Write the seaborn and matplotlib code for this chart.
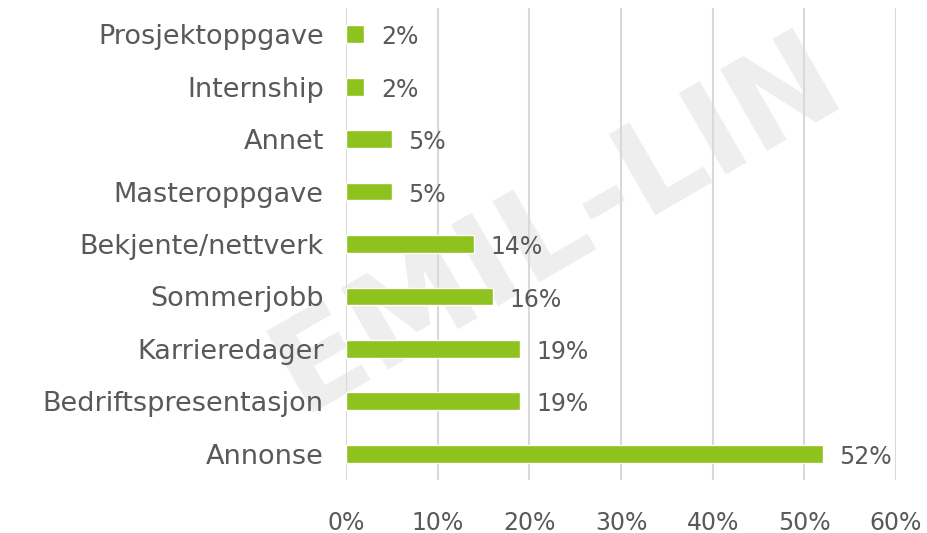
import matplotlib
matplotlib.use("Agg")
import matplotlib.pyplot as plt
import seaborn as sns
import pandas as pd

categories = ["Prosjektoppgave", "Internship", "Annet", "Masteroppgave",
              "Bekjente/nettverk", "Sommerjobb", "Karrieredager",
              "Bedriftspresentasjon", "Annonse"]
shares = [2, 2, 5, 5, 14, 16, 19, 19, 52]
xticks = [0, 10, 20, 30, 40, 50, 60]

BAR_COLOR = "#8DC21F"
TEXT_COLOR = "#595959"

sns.set_theme(style="white")
plt.rcParams["font.family"] = ["DejaVu Sans"]

df = pd.DataFrame({"kanal": categories, "andel": shares})

fig = plt.figure(figsize=(9.28, 5.33), dpi=100)
ax = fig.add_axes([346 / 928, 53 / 533, 550 / 928, 472 / 533])
ax.set_zorder(2)

# faint watermark behind the chart
fig.text(0.60, 0.58, "EMIL-LIN", fontsize=92, color="#eeeeee",
         rotation=30, ha="center", va="center", fontweight="bold", zorder=0)

sns.barplot(data=df, x="andel", y="kanal", order=categories, color=BAR_COLOR,
            width=0.34, ax=ax, saturation=1, zorder=3)

ax.set_xlim(0, 60)
ax.set_ylim(len(categories) - 0.5, -0.5)
ax.set_xticks(xticks)
ax.set_xticklabels([f"{t}%" for t in xticks])
ax.grid(axis="x", color="#d9d9d9", linewidth=1.5, zorder=0)
ax.set_axisbelow(True)
for s in ax.spines.values():
    s.set_visible(False)
ax.set_xlabel("")
ax.set_ylabel("")
ax.tick_params(axis="both", length=0, colors=TEXT_COLOR)
ax.tick_params(axis="y", pad=16, labelsize=19.5)
ax.tick_params(axis="x", pad=22, labelsize=17)
ax.patch.set_alpha(0)

for i, v in enumerate(shares):
    ax.text(v + 1.8, i + 0.06, f"{v}%", va="center", ha="left",
            fontsize=17, color=TEXT_COLOR)

fig.savefig("out.png", dpi=100)
